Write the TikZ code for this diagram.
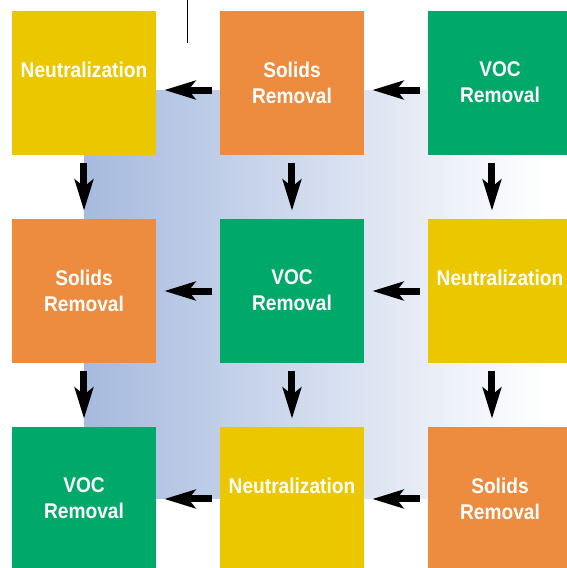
\documentclass[tikz,border=0pt]{standalone}
\usepackage{fontspec}
\setmainfont{Liberation Sans}[FakeStretch=0.9]
\usetikzlibrary{arrows.meta,positioning}
\definecolor{neutyellow}{RGB}{235,199,0}
\definecolor{solorange}{RGB}{237,140,62}
\definecolor{vocgreen}{RGB}{0,168,106}
\definecolor{flowblue}{RGB}{166,186,222}

\begin{document}
\begin{tikzpicture}[>={Stealth[length=0.62cm,width=0.37cm,inset=0.14cm]},
    stage/.style={minimum size=2.88cm,inner sep=0pt},
    lbl/.style={text=white,align=center,inner sep=0pt,font=\bfseries\fontsize{12.1}{14.8}\selectfont},
    flow/.style={->,line width=0.14cm,shorten <=0.16cm,shorten >=0.16cm}]
    \clip (0,0) rectangle (11.34,11.36);
    % shaded band behind the grid
    \shade[left color=flowblue,right color=white] (1.68,1.38) rectangle (10.9,9.56);
    % short rule at top
    \draw[line width=0.02cm] (3.76,11.36) -- (3.76,10.5);
    % first row
    \node[stage,fill=neutyellow] (a) at (1.68,9.70) {};
    \node[stage,fill=solorange] (b) at (5.84,9.70) {};
    \node[stage,fill=vocgreen] (c) at (10.0,9.70) {};
    % second row
    \node[stage,fill=solorange] (d) at (1.68,5.54) {};
    \node[stage,fill=vocgreen] (e) at (5.84,5.54) {};
    \node[stage,fill=neutyellow] (f) at (10.0,5.54) {};
    % third row
    \node[stage,fill=vocgreen] (g) at (1.68,1.38) {};
    \node[stage,fill=neutyellow] (h) at (5.84,1.38) {};
    \node[stage,fill=solorange] (i) at (10.0,1.38) {};
    % labels
    \node[lbl,below=1.02cm of a.north] (ta) {Neutralization};
    \node[lbl,below=1.02cm of b.north] (tb) {Solids\\Removal};
    \node[lbl,below=1.02cm of c.north] (tc) {VOC\\Removal};
    \node[lbl,below=1.02cm of d.north] (td) {Solids\\Removal};
    \node[lbl,below=1.02cm of e.north] (te) {VOC\\Removal};
    \node[lbl,below=1.02cm of f.north] (tf) {Neutralization};
    \node[lbl,below=1.02cm of g.north] (tg) {VOC\\Removal};
    \node[lbl,below=1.02cm of h.north] (th) {Neutralization};
    \node[lbl,below=1.02cm of i.north] (ti) {Solids\\Removal};
    % flow arrows
    \foreach \s/\t/\dy in {b/a/-0.14,c/b/-0.14,e/d/0,f/e/0,h/g/0,i/h/0}
      \draw[flow] ([yshift=\dy cm]\s.west) -- ([yshift=\dy cm]\t.east);
    \foreach \s/\t/\dx in {a/d/0,b/e/0,c/f/-0.16,d/g/0,e/h/0,f/i/-0.16}
      \draw[flow] ([xshift=\dx cm]\s.south) -- ([xshift=\dx cm]\t.north);
  \end{tikzpicture}
\end{document}
